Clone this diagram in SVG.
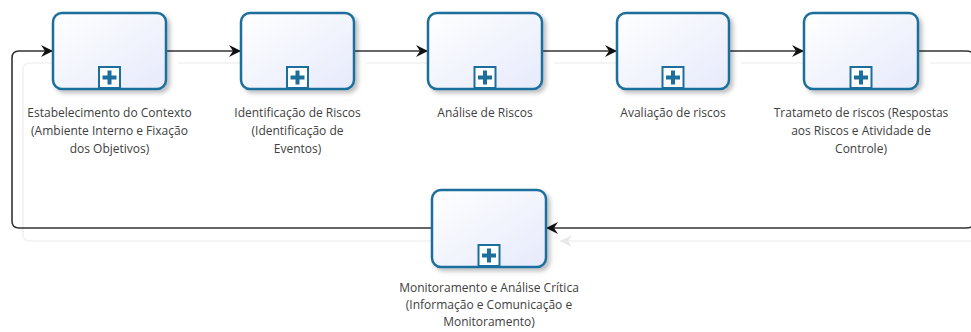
<svg xmlns="http://www.w3.org/2000/svg" width="971" height="332" viewBox="0 0 971 332">
<defs>
<linearGradient id="g" x1="0" y1="0" x2="1" y2="1">
<stop offset="0" stop-color="#ffffff"/>
<stop offset="1" stop-color="#e6eafb"/>
</linearGradient>
<filter id="sh" x="-20%" y="-20%" width="150%" height="150%">
<feDropShadow dx="3" dy="3" stdDeviation="2" flood-color="#000" flood-opacity="0.25"/>
</filter>
<marker id="arr" markerWidth="14" markerHeight="12" refX="12" refY="6" orient="auto" markerUnits="userSpaceOnUse">
<path d="M0,0 L12,6 L0,12 L4,6 Z" fill="#111"/>
</marker>
<marker id="arrf" markerWidth="14" markerHeight="12" refX="12" refY="6" orient="auto" markerUnits="userSpaceOnUse">
<path d="M0,0 L12,6 L0,12 L4,6 Z" fill="#e8e8e8"/>
</marker>
</defs>
<style>
.task{fill:url(#g);stroke:#1c6e9c;stroke-width:2.5;filter:url(#sh)}
.sub{fill:#ffffff;stroke:#1c6e9c;stroke-width:2}
.plus{fill:#1c6e9c}
.lbl{font-family:"Segoe UI","Open Sans","Noto Sans",sans-serif;font-size:12px;fill:#404040;text-anchor:middle}
.conn{fill:none;stroke:#333;stroke-width:1.6}
.ghost{fill:none;stroke:#f1f1f1;stroke-width:1.6}
</style>

<g id="connector-shadows">
<path class="ghost" d="M178,63 H253"/>
<path class="ghost" d="M366,63 H440"/>
<path class="ghost" d="M554,63 H629"/>
<path class="ghost" d="M741,63 H816"/>
<path class="ghost" d="M930,63 H971"/>
<path class="ghost" d="M444,241 H30 Q23,241 23,234 V70 Q23,63 30,63 H65"/>
<path class="ghost" d="M971,241 H560" marker-end="url(#arrf)"/>
</g>

<g id="connectors">
<path class="conn" d="M166,51 H241" marker-end="url(#arr)"/>
<path class="conn" d="M354,51 H428" marker-end="url(#arr)"/>
<path class="conn" d="M542,51 H617" marker-end="url(#arr)"/>
<path class="conn" d="M729,51 H804" marker-end="url(#arr)"/>
<path class="conn" d="M918,51 H966 Q976,51 976,61 V218 Q976,228 966,228 H546" marker-end="url(#arr)"/>
<path class="conn" d="M432,228 H19 Q12,228 12,221 V58 Q12,51 19,51 H53" marker-end="url(#arr)"/>
</g>

<g id="n1">
<rect class="task" x="53" y="13" width="113" height="76" rx="9"/>
<rect class="sub" x="99" y="67" width="21" height="21"/>
<path class="plus" d="M107.5,70.5 h4 v5 h5 v4 h-5 v5 h-4 v-5 h-5 v-4 h5 z"/>
<text class="lbl" x="109.5" y="117">Estabelecimento do Contexto</text>
<text class="lbl" x="109.5" y="135">(Ambiente Interno e Fixação</text>
<text class="lbl" x="109.5" y="153">dos Objetivos)</text>
</g>

<g id="n2">
<rect class="task" x="241" y="13" width="113" height="76" rx="9"/>
<rect class="sub" x="287" y="67" width="21" height="21"/>
<path class="plus" d="M295.5,70.5 h4 v5 h5 v4 h-5 v5 h-4 v-5 h-5 v-4 h5 z"/>
<text class="lbl" x="297.5" y="117">Identificação de Riscos</text>
<text class="lbl" x="297.5" y="135">(Identificação de</text>
<text class="lbl" x="297.5" y="153">Eventos)</text>
</g>

<g id="n3">
<rect class="task" x="428" y="13" width="114" height="76" rx="9"/>
<rect class="sub" x="474.5" y="67" width="21" height="21"/>
<path class="plus" d="M483,70.5 h4 v5 h5 v4 h-5 v5 h-4 v-5 h-5 v-4 h5 z"/>
<text class="lbl" x="485" y="117">Análise de Riscos</text>
</g>

<g id="n4">
<rect class="task" x="617" y="13" width="112" height="76" rx="9"/>
<rect class="sub" x="662.5" y="67" width="21" height="21"/>
<path class="plus" d="M671,70.5 h4 v5 h5 v4 h-5 v5 h-4 v-5 h-5 v-4 h5 z"/>
<text class="lbl" x="673" y="117">Avaliação de riscos</text>
</g>

<g id="n5">
<rect class="task" x="804" y="13" width="114" height="76" rx="9"/>
<rect class="sub" x="850.5" y="67" width="21" height="21"/>
<path class="plus" d="M859,70.5 h4 v5 h5 v4 h-5 v5 h-4 v-5 h-5 v-4 h5 z"/>
<text class="lbl" x="861" y="117">Tratameto de riscos (Respostas</text>
<text class="lbl" x="861" y="135">aos Riscos e Atividade de</text>
<text class="lbl" x="861" y="153">Controle)</text>
</g>

<g id="n6">
<rect class="task" x="432" y="190" width="114" height="77" rx="9"/>
<rect class="sub" x="478.5" y="245" width="21" height="21"/>
<path class="plus" d="M487,248.5 h4 v5 h5 v4 h-5 v5 h-4 v-5 h-5 v-4 h5 z"/>
<text class="lbl" x="489" y="292">Monitoramento e Análise Crítica</text>
<text class="lbl" x="489" y="309">(Informação e Comunicação e</text>
<text class="lbl" x="489" y="326">Monitoramento)</text>
</g>
</svg>
